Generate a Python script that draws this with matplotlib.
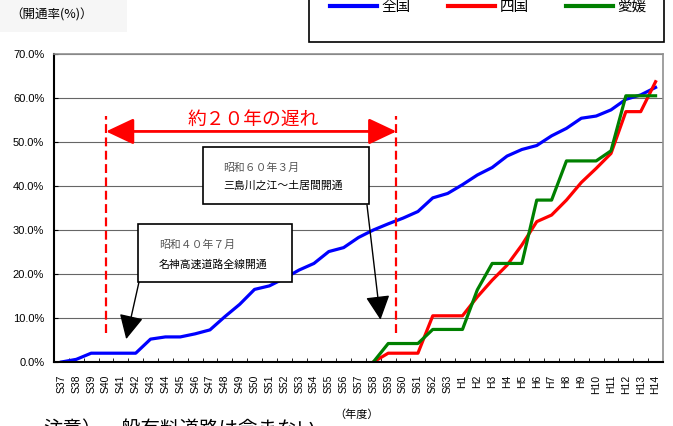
import numpy as np
import matplotlib.pyplot as plt
from matplotlib.patches import Rectangle

plt.rcParams['font.family'] = ['Liberation Sans', 'Noto Sans CJK JP']
JP = ['Noto Sans CJK JP', 'DejaVu Sans']

# 年度ラベル
nendo = ['S%d' % n for n in range(37, 64)] + ['H%d' % n for n in range(1, 15)]

# 開通率(%)
zenkoku = [0.0, 0.6, 2.0, 2.0, 2.0, 2.0, 5.2, 5.7, 5.7, 6.4, 7.3, 10.3, 13.1,
           16.5, 17.3, 19.0, 20.9, 22.4, 25.1, 26.0, 28.3, 30.0, 31.4, 32.7,
           34.2, 37.3, 38.3, 40.3, 42.5, 44.2, 46.8, 48.3, 49.2, 51.4, 53.1,
           55.4, 55.9, 57.3, 59.7, 60.7, 62.4]
shikoku = [np.nan] * 21 + [0.0, 2.0, 2.0, 2.0, 10.5, 10.5, 10.5, 14.8, 18.6,
                           22.0, 26.6, 31.9, 33.4, 36.8, 40.8, 44.0, 47.4,
                           56.9, 56.9, 63.7]
ehime = [np.nan] * 21 + [0.0, 4.2, 4.2, 4.2, 7.4, 7.4, 7.4, 16.4, 22.4, 22.4,
                         22.4, 36.8, 36.8, 45.7, 45.7, 45.7, 48.0, 60.5, 60.5,
                         60.5]

W, H = 673, 426


def fp(x, y):
    # ピクセル位置 -> figure fraction
    return (x / W, 1 - y / H)


fig = plt.figure(figsize=(6.73, 4.26), dpi=100)
ax = fig.add_axes([54 / W, 1 - 362 / H, (663 - 54) / W, (362 - 54) / H])

x = np.arange(len(nendo))
ax.plot(x, zenkoku, color='#0000ff', lw=2.3, label='全国')
ax.plot(x, shikoku, color='#ff0000', lw=2.3, label='四国')
ax.plot(x, ehime, color='#008000', lw=2.3, label='愛媛')

ax.set_xlim(-0.5, len(nendo) - 0.5)
ax.set_ylim(0, 70)
ax.set_yticks(np.arange(0, 71, 10))
ax.set_yticklabels(['%.1f%%' % v for v in range(0, 71, 10)], fontsize=8)
ax.yaxis.grid(True, color='#666666', lw=0.8)
ax.set_axisbelow(True)
ax.tick_params(axis='y', direction='in', length=3, pad=7)

ax.set_xticks(x)
ax.set_xticklabels(nendo, rotation=90, fontsize=7.5)
ax.set_xticks(np.arange(0.5, len(nendo) - 1, 1), minor=True)
ax.tick_params(axis='x', which='major', length=0, pad=9)
ax.tick_params(axis='x', which='minor', direction='in', length=3)

for s in ['left', 'bottom']:
    ax.spines[s].set_color('black')
    ax.spines[s].set_linewidth(1.5)
for s in ['top', 'right']:
    ax.spines[s].set_color('#909090')
    ax.spines[s].set_linewidth(1.2)

# 約20年の遅れ
ax.vlines([3, 22.55], 6.6, 55.8, colors='#ff0000', lw=1.6,
          linestyles=(0, (4, 2)))
ax.annotate('', xy=(3, 52.4), xytext=(22.55, 52.4),
            arrowprops=dict(arrowstyle='<|-|>,head_length=1.7,head_width=0.8',
                            color='#ff0000', lw=2, mutation_scale=10,
                            shrinkA=0, shrinkB=0))
ax.text(12.9, 55.2, '約２０年の遅れ', color='#ff0000', fontsize=13.5,
        ha='center', va='center', family=JP)

# 吹き出し
box1 = Rectangle(fp(137.7, 281.7), (292.3 - 137.7) / W, (281.7 - 224) / H,
                 transform=fig.transFigure, fc='white', ec='black', lw=1.2)
box2 = Rectangle(fp(202.7, 204.3), (368.7 - 202.7) / W, (204.3 - 147.3) / H,
                 transform=fig.transFigure, fc='white', ec='black', lw=1.2)
fig.patches.extend([box1, box2])
fig.text(*fp(159, 245), '昭和４０年７月', fontsize=7.8, color='#555555',
         va='center', family=JP)
fig.text(*fp(159, 264.3), '名神高速道路全線開通', fontsize=7.8, color='black',
         va='center', family=JP)
fig.text(*fp(223, 168), '昭和６０年３月', fontsize=7.8, color='#555555',
         va='center', family=JP)
fig.text(*fp(223, 185.7), '三島川之江～土居間開通', fontsize=7.8,
         color='black', va='center', family=JP)

arrow = dict(arrowstyle='-|>,head_length=1.5,head_width=0.75', color='black',
             lw=1, mutation_scale=10, shrinkA=0, shrinkB=0)
ax.annotate('', xy=(4.36, 5.2), xytext=fp(139, 282),
            textcoords='figure fraction', arrowprops=arrow)
ax.annotate('', xy=(21.48, 9.6), xytext=fp(367, 205),
            textcoords='figure fraction', arrowprops=arrow)

# 凡例
fig.patches.append(Rectangle(fp(309.3, 41.7), (664 - 309.3) / W, 50 / H,
                             transform=fig.transFigure, fc='white',
                             ec='black', lw=1.2))
leg = fig.legend(loc='center left', bbox_to_anchor=fp(330, 7.3), ncol=3,
                 frameon=False, borderpad=0, borderaxespad=0,
                 handlelength=3.2, handletextpad=0.3, columnspacing=2.6,
                 prop={'family': JP, 'size': 10.5})
for ln in leg.get_lines():
    ln.set_linewidth(3)

# 軸タイトルなど
fig.patches.append(Rectangle(fp(0, 32), 127 / W, 32 / H,
                             transform=fig.transFigure, fc='#f6f6f6',
                             ec='none', zorder=0))
fig.text(*fp(10, 15), '（開通率(%)）', fontsize=9, va='center', family=JP)
fig.text(*fp(357, 415), '（年度）', fontsize=8, ha='center', va='center',
         family=JP)
fig.text(*fp(43, 429), '注意）一般有料道路は含まない', fontsize=14,
         va='center', family=JP)

fig.savefig('out.png', dpi=100)
